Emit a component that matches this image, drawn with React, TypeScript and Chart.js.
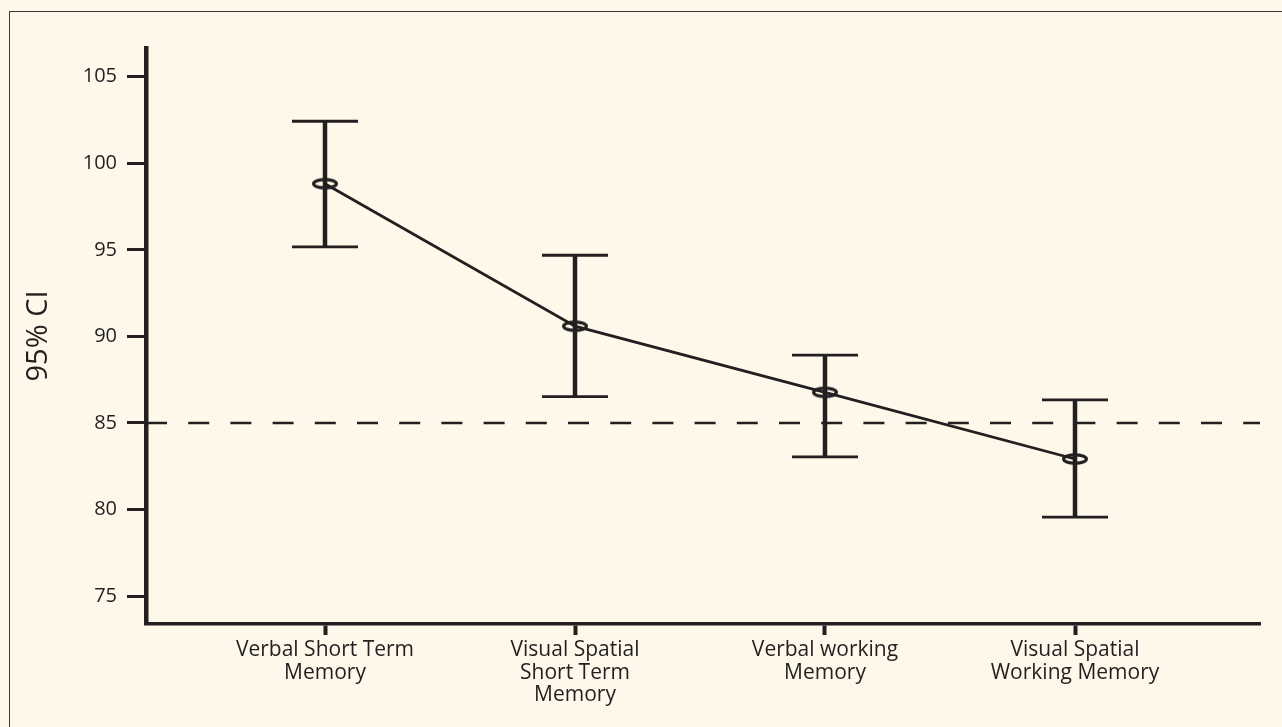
import React, { useEffect, useRef } from "react";
import { Chart, registerables } from "chart.js";

Chart.register(...registerables);

// ---- data ----
const categories: string[][] = [
  ["Verbal Short Term", "Memory"],
  ["Visual Spatial", "Short Term", "Memory"],
  ["Verbal working", "Memory"],
  ["Visual Spatial", "Working Memory"],
];
const means = [98.82, 90.59, 86.77, 82.92];
const upper = [102.43, 94.69, 88.92, 86.33];
const lower = [95.17, 86.52, 83.04, 79.56];
const yTicks = [75, 80, 85, 90, 95, 100, 105];
const referenceValue = 85;
const yTitle = "95% CI";

// ---- styling ----
const DARK = "#231f20";
const BG = "#fdf8e9";
const FONT = "'Open Sans', 'Noto Sans', sans-serif";
const X_MIN = -0.716;
const X_MAX = 3.74;
const Y_MIN = 73.39;
const Y_MAX = 106.66;

function makeEllipse(): HTMLCanvasElement {
  const c = document.createElement("canvas");
  c.width = 32;
  c.height = 18;
  const g = c.getContext("2d")!;
  g.strokeStyle = DARK;
  g.lineWidth = 3.2;
  g.beginPath();
  g.ellipse(16, 9, 11.4, 4.2, 0, 0, Math.PI * 2);
  g.stroke();
  return c;
}

export default function App() {
  const ref = useRef<HTMLCanvasElement | null>(null);

  useEffect(() => {
    if (!ref.current) return;
    const ellipse = makeEllipse();

    const errorSets = categories.map((_, i) => ({
      data: [
        { x: i, y: lower[i] },
        { x: i, y: upper[i] },
      ],
      borderColor: DARK,
      borderWidth: 4.5,
      pointStyle: "line" as const,
      pointRadius: 33,
      pointBorderWidth: 2.8,
      pointBorderColor: DARK,
      pointBackgroundColor: DARK,
      order: 1,
    }));

    const chart = new Chart(ref.current, {
      type: "line",
      data: {
        datasets: [
          {
            data: means.map((y, i) => ({ x: i, y })),
            borderColor: DARK,
            borderWidth: 2.8,
            pointStyle: ellipse as any,
            pointRadius: 10,
            tension: 0,
            order: 0,
          },
          ...errorSets,
          {
            data: [
              { x: X_MIN, y: referenceValue },
              { x: X_MAX, y: referenceValue },
            ],
            borderColor: DARK,
            borderWidth: 2.6,
            borderDash: [21, 21.2],
            pointRadius: 0,
            order: 2,
          },
        ] as any,
      },
      options: {
        animation: false,
        responsive: false,
        events: [],
        layout: { autoPadding: false, padding: { top: 48, right: 22, left: 0, bottom: 0 } },
        plugins: { legend: { display: false }, tooltip: { enabled: false } },
        scales: {
          x: {
            type: "linear",
            min: X_MIN,
            max: X_MAX,
            afterBuildTicks: (s: any) => {
              s.ticks = categories.map((_, i) => ({ value: i }));
            },
            afterFit: (s: any) => {
              s.height = 103;
              s.paddingLeft = 0;
              s.paddingRight = 0;
            },
            ticks: {
              callback: (v: any) => categories[v as number],
              font: { family: FONT, size: 21, lineHeight: 1.07 },
              color: DARK,
              padding: 4,
              maxRotation: 0,
              autoSkip: false,
            },
            grid: {
              display: true,
              drawOnChartArea: false,
              drawTicks: true,
              tickLength: 11,
              tickWidth: 4,
              tickColor: DARK,
              color: DARK,
            },
            border: { display: true, color: DARK, width: 3.5 },
          },
          y: {
            type: "linear",
            min: Y_MIN,
            max: Y_MAX,
            afterBuildTicks: (s: any) => {
              s.ticks = yTicks.map((v) => ({ value: v }));
            },
            afterFit: (s: any) => {
              s.width = 146;
              s.paddingTop = 0;
              s.paddingBottom = 0;
            },
            ticks: {
              font: { family: FONT, size: 20 },
              color: DARK,
              padding: 10,
            },
            grid: {
              display: true,
              drawOnChartArea: false,
              drawTicks: true,
              tickLength: 19,
              tickWidth: 3,
              tickColor: DARK,
              color: DARK,
            },
            border: { display: true, color: DARK, width: 4.5 },
            title: {
              display: true,
              text: yTitle,
              font: { family: FONT, size: 29, lineHeight: 1.2 },
              color: DARK,
              padding: { top: 21.6, bottom: 0 },
            },
          },
        },
      },
    });
    return () => chart.destroy();
  }, []);

  return (
    <div
      style={{
        position: "fixed",
        left: 0,
        top: 0,
        width: 1282,
        height: 727,
        background: BG,
        overflow: "hidden",
      }}
    >
      <div
        style={{
          position: "absolute",
          left: 9,
          top: 11,
          right: 0,
          bottom: 0,
          borderTop: "1.5px solid #3a3a3a",
          borderLeft: "1.5px solid #3a3a3a",
        }}
      />
      <canvas
        ref={ref}
        width={1282}
        height={727}
        style={{ position: "absolute", left: 0, top: 0, display: "block" }}
      />
    </div>
  );
}
